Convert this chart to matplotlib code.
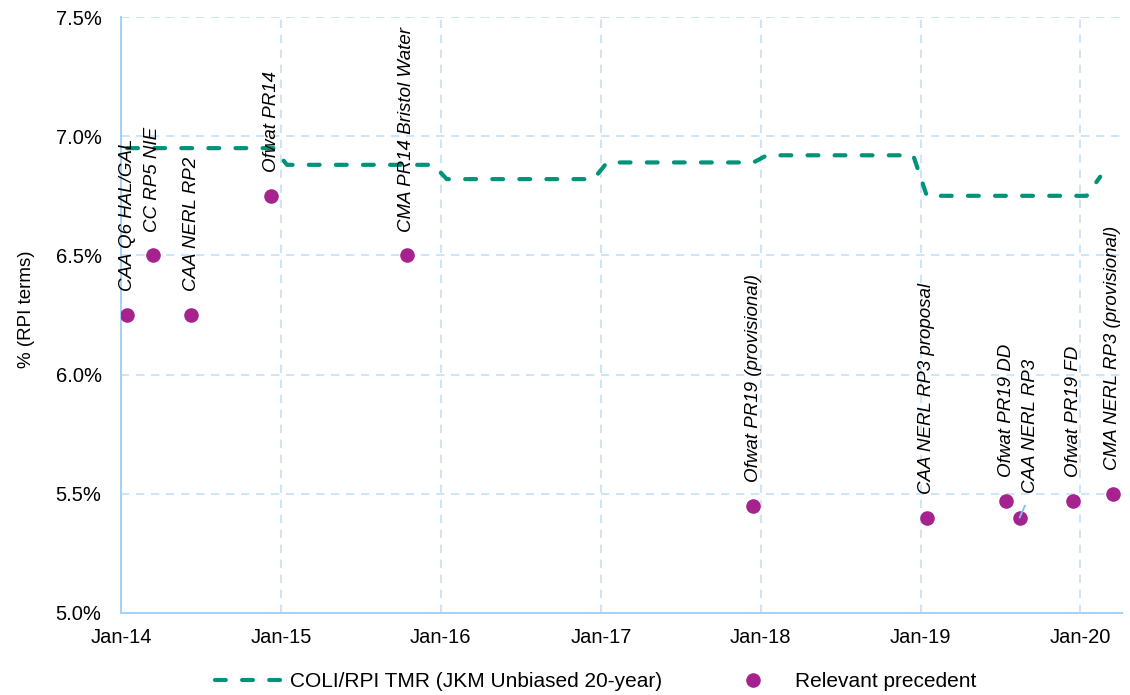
import datetime as dt
import matplotlib
matplotlib.use("Agg")
import matplotlib.pyplot as plt
import matplotlib.dates as mdates
from matplotlib.lines import Line2D

plt.rcParams['font.family'] = ['Liberation Sans', 'DejaVu Sans']

# COLI/RPI TMR (JKM unbiased 20-year), monthly step points (mid-month)
tmr_dates = ["2014-01-15", "2014-12-15", "2015-01-15", "2015-12-15", "2016-01-15",
             "2016-12-15", "2017-01-15", "2017-12-15", "2018-01-15", "2018-12-15",
             "2019-01-15", "2019-12-15", "2020-01-15", "2020-02-15"]
tmr_values = [6.95, 6.95, 6.88, 6.88, 6.82,
              6.82, 6.89, 6.89, 6.92, 6.92,
              6.75, 6.75, 6.75, 6.83]

# Regulatory precedents
prec_names = ["CAA Q6 HAL/GAL", "CC RP5 NIE", "CAA NERL RP2", "Ofwat PR14",
              "CMA PR14 Bristol Water", "Ofwat PR19 (provisional)",
              "CAA NERL RP3 proposal", "Ofwat PR19 DD", "CAA NERL RP3",
              "Ofwat PR19 FD", "CMA NERL RP3 (provisional)"]
prec_dates = ["2014-01-15", "2014-03-15", "2014-06-10", "2014-12-10",
              "2015-10-15", "2017-12-15", "2019-01-15", "2019-07-15",
              "2019-08-15", "2019-12-15", "2020-03-15"]
prec_values = [6.25, 6.50, 6.25, 6.75, 6.50, 5.45, 5.40, 5.47, 5.40, 5.47, 5.50]

tick_dates = ["2014-01-01", "2015-01-01", "2016-01-01", "2017-01-01",
              "2018-01-01", "2019-01-01", "2020-01-01"]
y_ticks = [5.0, 5.5, 6.0, 6.5, 7.0, 7.5]


def to_num(s):
    return mdates.date2num(dt.datetime.strptime(s, "%Y-%m-%d"))


TEAL = "#00937a"
PURPLE = "#a6228f"
GRID = "#c5e0f7"
SPINE = "#a9d1f5"
LEADER = "#7fbff0"
DASH = (0, (2.6, 3.9))

fig = plt.figure(figsize=(11.3, 6.95), dpi=100)
ax = fig.add_axes([0.1071, 0.118, 0.993 - 0.1071, 0.9755 - 0.118])

tx = [to_num(d) for d in tmr_dates]
ax.plot(tx, tmr_values, color=TEAL, lw=3.0, linestyle=DASH,
        dash_capstyle='round', zorder=3)

px = [to_num(d) for d in prec_dates]
ax.plot(px, prec_values, linestyle='none', marker='o', markersize=10.5,
        color=PURPLE, markeredgewidth=0, zorder=4)

for name, x, y in zip(prec_names, px, prec_values):
    if name == "CAA NERL RP3":
        ax.annotate(name, xy=(x, y), xytext=(8, 18), textcoords='offset points',
                    rotation=90, ha='center', va='bottom', fontsize=13.5,
                    style='italic', zorder=5,
                    arrowprops=dict(arrowstyle='-', color=LEADER, lw=1.3,
                                    shrinkA=8, shrinkB=0, relpos=(0.5, 0.0)))
    else:
        ax.annotate(name, xy=(x, y), xytext=(0, 17), textcoords='offset points',
                    rotation=90, ha='center', va='bottom', fontsize=13.5,
                    style='italic')

ax.set_xlim(to_num("2014-01-01"), to_num("2020-04-05"))
ax.set_ylim(5.0, 7.5)
ax.set_xticks([to_num(d) for d in tick_dates])
ax.xaxis.set_major_formatter(mdates.DateFormatter('%b-%y'))
ax.set_yticks(y_ticks)
ax.set_yticklabels([f"{v:.1f}%" for v in y_ticks])
ax.tick_params(length=0, labelsize=14.5, colors='black')
ax.tick_params(axis='x', pad=11)
ax.tick_params(axis='y', pad=14)
ax.set_ylabel("% (RPI terms)", fontsize=13.5)
ax.yaxis.set_label_coords(-0.086, 0.51)

ax.grid(True, color=GRID, linestyle=(0, (5, 4)), lw=1.2)
ax.set_axisbelow(True)
for side in ['top', 'right']:
    ax.spines[side].set_visible(False)
for side in ['left', 'bottom']:
    ax.spines[side].set_color(SPINE)
    ax.spines[side].set_linewidth(1.5)

handles = [Line2D([0], [0], color=TEAL, lw=3.0, linestyle=DASH,
                  dash_capstyle='round'),
           Line2D([0], [0], linestyle='none', marker='o', markersize=10.5,
                  color=PURPLE, markeredgewidth=0)]
fig.legend(handles, ["COLI/RPI TMR (JKM Unbiased 20-year)", "Relevant precedent"],
           loc='center', bbox_to_anchor=(0.527, 0.019), ncol=2, frameon=False,
           fontsize=15, handlelength=3.2, columnspacing=2.8, handletextpad=0.4,
           borderpad=0.1)

fig.savefig("out.png", dpi=100)
